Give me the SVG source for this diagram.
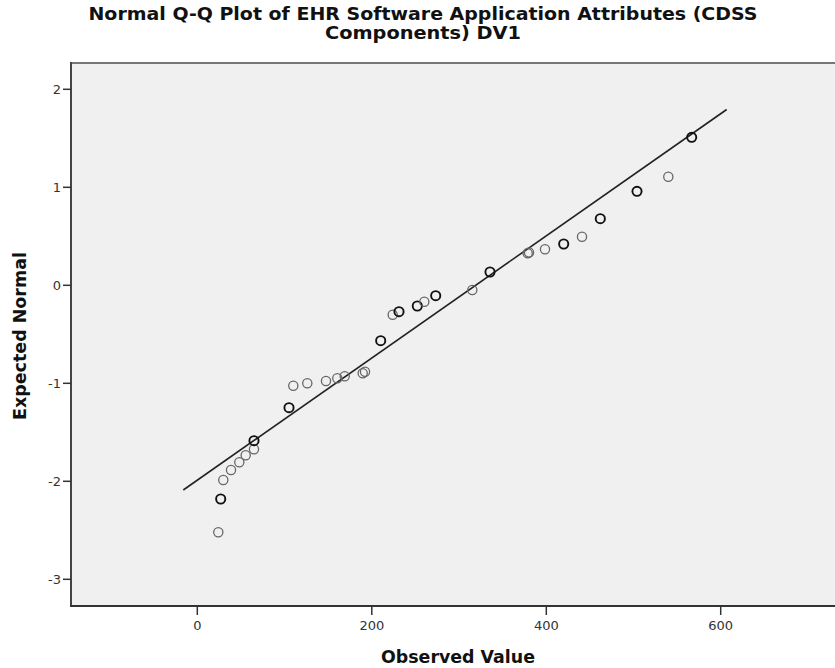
<svg xmlns="http://www.w3.org/2000/svg" width="835" height="668" viewBox="0 0 835 668">
<style>
.title{font-family:"DejaVu Sans",sans-serif;font-weight:bold;font-size:17px;fill:#111;text-anchor:middle}
.axlab{font-family:"DejaVu Sans",sans-serif;font-weight:bold;font-size:17.5px;fill:#111;text-anchor:middle}
.tick{font-family:"DejaVu Sans",sans-serif;font-size:13px;fill:#333}
.yt{text-anchor:end}
.xt{text-anchor:middle}
.tk{stroke:#333;stroke-width:1.5}
.pt{fill:none;stroke:#666;stroke-width:1.3}
.pd{fill:none;stroke:#111;stroke-width:1.9}
</style>
<rect width="835" height="668" fill="#ffffff"/>
<g id="title">
<text class="title" x="423" y="20" textLength="669" lengthAdjust="spacingAndGlyphs">Normal Q-Q Plot of EHR Software Application Attributes (CDSS</text>
<text class="title" x="423" y="38.5" textLength="196" lengthAdjust="spacingAndGlyphs">Components) DV1</text>
</g>
<g id="plot-area">
<rect x="71" y="63" width="770" height="543" fill="#f0f0f0"/>
<line x1="71" y1="63" x2="835" y2="63" stroke="#777" stroke-width="2"/>
<line x1="71" y1="62" x2="71" y2="607" stroke="#444" stroke-width="2"/>
<line x1="70" y1="606" x2="835" y2="606" stroke="#333" stroke-width="2"/>
</g>
<g id="y-axis">
<line class="tk" x1="63" y1="89.3" x2="71" y2="89.3"/>
<line class="tk" x1="63" y1="187.3" x2="71" y2="187.3"/>
<line class="tk" x1="63" y1="285.3" x2="71" y2="285.3"/>
<line class="tk" x1="63" y1="383.3" x2="71" y2="383.3"/>
<line class="tk" x1="63" y1="481.3" x2="71" y2="481.3"/>
<line class="tk" x1="63" y1="579.3" x2="71" y2="579.3"/>
<text class="tick yt" x="61" y="94">2</text>
<text class="tick yt" x="61" y="192">1</text>
<text class="tick yt" x="61" y="290">0</text>
<text class="tick yt" x="61" y="388">-1</text>
<text class="tick yt" x="61" y="486">-2</text>
<text class="tick yt" x="61" y="584">-3</text>
<text class="axlab" transform="translate(25.5,336) rotate(-90)" textLength="168" lengthAdjust="spacingAndGlyphs">Expected Normal</text>
</g>
<g id="x-axis">
<line class="tk" x1="197.3" y1="606" x2="197.3" y2="615"/>
<line class="tk" x1="371.8" y1="606" x2="371.8" y2="615"/>
<line class="tk" x1="546.3" y1="606" x2="546.3" y2="615"/>
<line class="tk" x1="720.7" y1="606" x2="720.7" y2="615"/>
<text class="tick xt" x="197.3" y="630">0</text>
<text class="tick xt" x="371.8" y="630">200</text>
<text class="tick xt" x="546.3" y="630">400</text>
<text class="tick xt" x="720.7" y="630">600</text>
<text class="axlab" x="458" y="663" textLength="154" lengthAdjust="spacingAndGlyphs">Observed Value</text>
</g>
<g id="reference-line">
<line x1="183.3" y1="490" x2="726.7" y2="109.5" stroke="#222" stroke-width="1.6"/>
</g>
<g id="points">
<circle class="pt" cx="218.3" cy="532.3" r="4.6"/>
<circle class="pd" cx="220.7" cy="499" r="4.6"/>
<circle class="pt" cx="223.3" cy="480" r="4.6"/>
<circle class="pt" cx="231" cy="470" r="4.6"/>
<circle class="pt" cx="239.3" cy="462.3" r="4.6"/>
<circle class="pt" cx="245.7" cy="455.3" r="4.6"/>
<circle class="pt" cx="254" cy="449.3" r="4.6"/>
<circle class="pd" cx="254" cy="440.7" r="4.6"/>
<circle class="pd" cx="289" cy="407.7" r="4.6"/>
<circle class="pt" cx="293.3" cy="385.7" r="4.6"/>
<circle class="pt" cx="307.3" cy="383.3" r="4.6"/>
<circle class="pt" cx="326" cy="381" r="4.6"/>
<circle class="pt" cx="337.3" cy="378.3" r="4.6"/>
<circle class="pt" cx="344.7" cy="376.3" r="4.6"/>
<circle class="pt" cx="362.7" cy="373.3" r="4.6"/>
<circle class="pt" cx="365" cy="371.7" r="4.6"/>
<circle class="pd" cx="380.7" cy="340.7" r="4.6"/>
<circle class="pt" cx="392.7" cy="314.7" r="4.6"/>
<circle class="pd" cx="399" cy="311.7" r="4.6"/>
<circle class="pd" cx="417.3" cy="306" r="4.6"/>
<circle class="pt" cx="424.3" cy="301.7" r="4.6"/>
<circle class="pd" cx="435.7" cy="295.7" r="4.6"/>
<circle class="pt" cx="472.3" cy="290" r="4.6"/>
<circle class="pd" cx="490" cy="272" r="4.6"/>
<circle class="pt" cx="527.7" cy="253.3" r="4.6"/>
<circle class="pt" cx="529" cy="252.5" r="4.6"/>
<circle class="pt" cx="545" cy="249.3" r="4.6"/>
<circle class="pd" cx="563.7" cy="244" r="4.6"/>
<circle class="pt" cx="582" cy="236.7" r="4.6"/>
<circle class="pd" cx="600.3" cy="218.7" r="4.6"/>
<circle class="pd" cx="637" cy="191.3" r="4.6"/>
<circle class="pt" cx="668.3" cy="176.7" r="4.6"/>
<circle class="pd" cx="691.7" cy="137.3" r="4.6"/>
</g>
</svg>
